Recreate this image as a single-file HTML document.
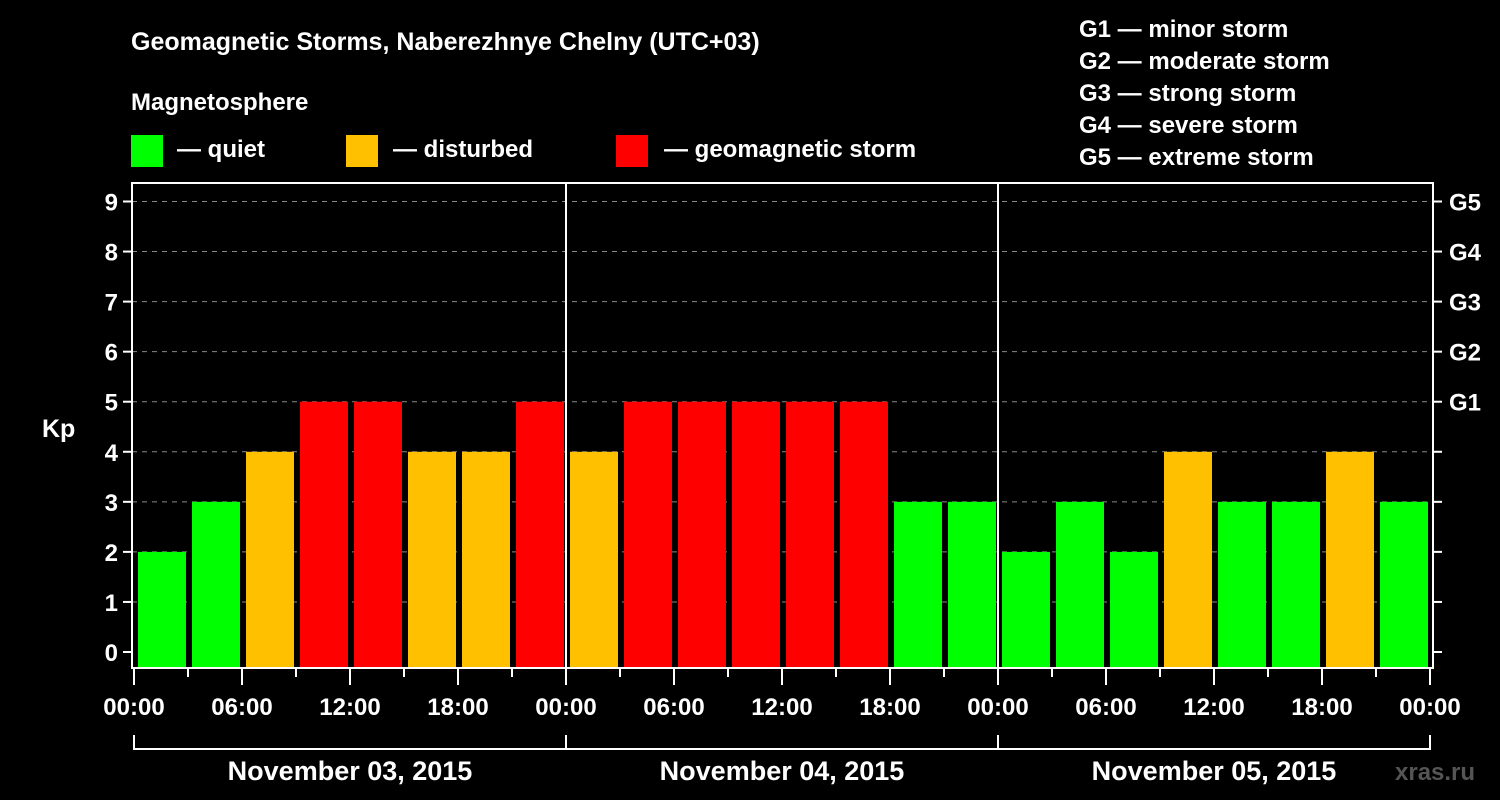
<!DOCTYPE html>
<html><head><meta charset="utf-8"><style>
body{margin:0;background:#000;}
svg{display:block;font-family:"Liberation Sans",sans-serif;font-weight:bold;}
</style></head><body>
<svg id="chart" width="1500" height="800" viewBox="0 0 1500 800">
<rect x="0" y="0" width="1500" height="800" fill="#000"/>
<text x="131" y="50" fill="#fff" font-size="25">Geomagnetic Storms, Naberezhnye Chelny (UTC+03)</text>
<text x="131" y="110" fill="#fff" font-size="24">Magnetosphere</text>
<g><rect x="131" y="135" width="32" height="32" fill="#00ff00"/><text x="177" y="157" fill="#fff" font-size="24">— quiet</text></g>
<g><rect x="346" y="135" width="32" height="32" fill="#ffc000"/><text x="393" y="157" fill="#fff" font-size="24">— disturbed</text></g>
<g><rect x="616" y="135" width="32" height="32" fill="#ff0000"/><text x="664" y="157" fill="#fff" font-size="24">— geomagnetic storm</text></g>
<g fill="#fff" font-size="24">
<text x="1079" y="37">G1 — minor storm</text>
<text x="1079" y="69">G2 — moderate storm</text>
<text x="1079" y="101">G3 — strong storm</text>
<text x="1079" y="133">G4 — severe storm</text>
<text x="1079" y="165">G5 — extreme storm</text>
</g>
<text x="42" y="437" fill="#fff" font-size="25">Kp</text>
<text x="1395" y="780" fill="#555" font-size="24">xras.ru</text>
<g id="grid"></g><g id="bars"></g><g id="axes"></g>
</svg>
<script>
const days = ["November 03, 2015","November 04, 2015","November 05, 2015"];
const kpValues = [2,3,4,5,5,4,4,5, 4,5,5,5,5,5,3,3, 2,3,2,4,3,3,4,3];
const yTicks = [0,1,2,3,4,5,6,7,8,9];
const gLabels = ["G1","G2","G3","G4","G5"];
const gLevels = [5,6,7,8,9];
const hourLabels = ["00:00","06:00","12:00","18:00"];

const NS="http://www.w3.org/2000/svg";
const x0=135, dayW=432, slotsPerDay=8;
const y0=652, unit=(652-201.5)/9;
const plotTop=183, plotBot=668, plotL=132, plotR=1433;
const xs=t=>x0+t*dayW/slotsPerDay; // t in 3h slots
const ys=v=>y0-v*unit;
function mk(tag,attrs,parent){const e=document.createElementNS(NS,tag);for(const k in attrs)e.setAttribute(k,attrs[k]);parent.appendChild(e);return e;}
const grid=document.getElementById('grid'),bars=document.getElementById('bars'),axes=document.getElementById('axes');
function color(v){return v>=5?"#ff0000":v>=4?"#ffc000":"#00ff00";}

yTicks.forEach(v=>{
  if(v>0){const l=mk('line',{x1:plotL,x2:plotR,y1:ys(v),y2:ys(v),stroke:"#888","stroke-width":1,"stroke-dasharray":"5,5"},grid);
  }
  const t=mk('line',{x1:plotL-9,x2:plotL,y1:ys(v),y2:ys(v),stroke:"#fff","stroke-width":2},axes);
  
  const r=mk('line',{x1:plotR,x2:plotR+9,y1:ys(v),y2:ys(v),stroke:"#fff","stroke-width":2},axes);
  
  const lb=mk('text',{x:plotL-14,y:ys(v)+9,fill:"#fff","font-size":24,"text-anchor":"end"},axes);
  lb.textContent=v;
  
});
gLabels.forEach((g,i)=>{
  const lb=mk('text',{x:1449,y:ys(gLevels[i])+9,fill:"#fff","font-size":24},axes);
  lb.textContent=g;
  
});
kpValues.forEach((v,i)=>{
  const top=ys(v);
  const b=mk('rect',{x:xs(i)+3,y:top,width:dayW/slotsPerDay-6,height:plotBot-1-top,fill:color(v)},bars);
  
});
// frame
const fr=mk('rect',{x:plotL,y:plotTop,width:plotR-plotL,height:plotBot-plotTop,fill:"none",stroke:"#fff","stroke-width":2},axes);

for(let d=1;d<days.length;d++){
  const l=mk('line',{x1:xs(d*8)-1,x2:xs(d*8)-1,y1:plotTop,y2:plotBot,stroke:"#fff","stroke-width":2},axes);
  
}
const totalSlots=days.length*slotsPerDay;
for(let s=0;s<=totalSlots;s++){
  const x=xs(s)-1;const major=s%2===0;
  const t=mk('line',{x1:x,x2:x,y1:plotBot,y2:plotBot+(major?17:9),stroke:"#fff","stroke-width":2},axes);
  
  if(major){
    const lb=mk('text',{x:x,y:715,fill:"#fff","font-size":24,"text-anchor":"middle"},axes);
    lb.textContent=hourLabels[(s/2)%4];
    
  }
}
days.forEach((d,i)=>{
  const a=xs(i*8)-1,b=xs(i*8+8)-1;
  const p=mk('path',{d:`M${a} 735 V749 H${b} V735`,fill:"none",stroke:"#fff","stroke-width":2},axes);
  
  const lb=mk('text',{x:(a+b)/2,y:780,fill:"#fff","font-size":27,"text-anchor":"middle"},axes);
  lb.textContent=d;
  
});
</script>
</body></html>
